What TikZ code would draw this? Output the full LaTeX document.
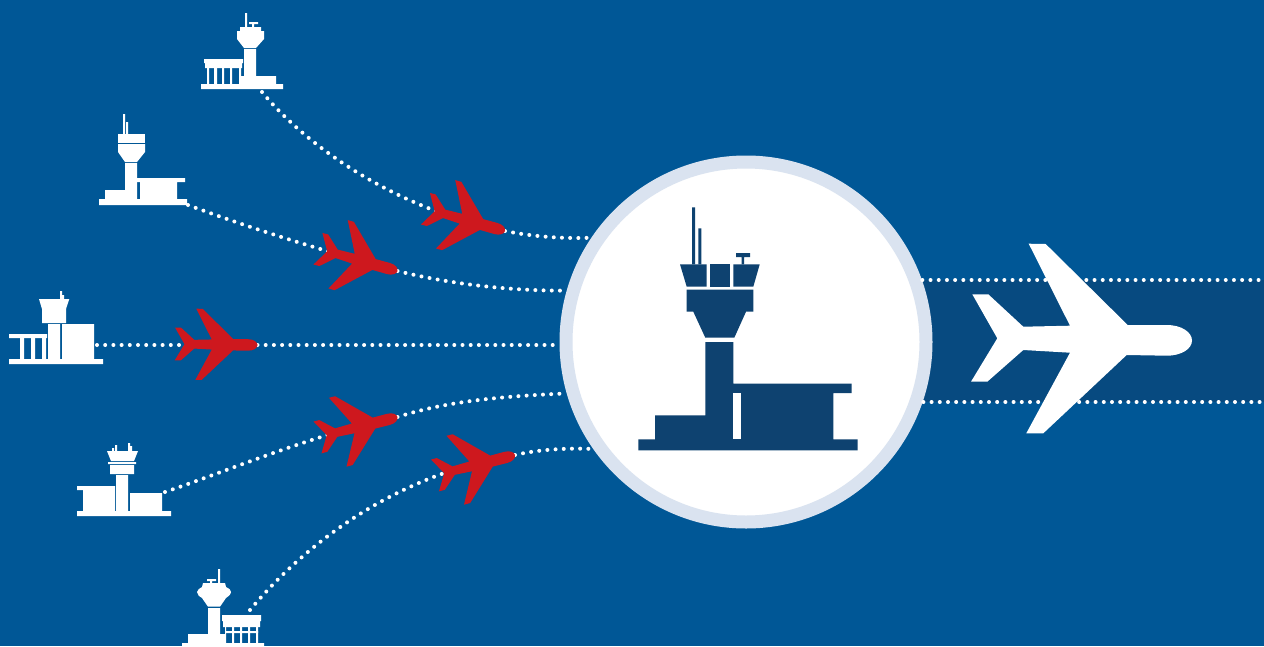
\documentclass[tikz,border=0pt]{standalone}
\usepackage{tikz}
\usetikzlibrary{shapes.geometric}

\definecolor{skyblue}{RGB}{0,87,150}
\definecolor{bandblue}{RGB}{7,74,128}
\definecolor{navy}{RGB}{14,66,112}
\definecolor{planered}{RGB}{206,24,30}
\definecolor{ringblue}{RGB}{218,227,240}

\begin{document}
\begin{tikzpicture}[x=1pt, y=-1pt,
  hub/.style={circle, draw=ringblue, fill=white, line width=13pt, minimum size=360pt, inner sep=0pt},
  route/.style={draw=white, line width=4pt, line cap=round, dash pattern=on 0pt off 8.2pt},
  bldg/.style={fill=white},
  hubbldg/.style={fill=navy},
  plane/.pic={
    \path [pic actions] (-219.7,-46.2) -- (-203.7,-46.2) -- (-168.7,-13.8) -- (-122,-14.8)
      -- (-163.3,-96.8) -- (-146.3,-96.5) -- (-64.3,-15.5) -- (-25.3,-15.5)
      .. controls (-10,-15.5) and (0,-8) .. (0,0) .. controls (0,8) and (-10,15.2) .. (-25.3,15.2)
      -- (-65.3,14.5) -- (-148.7,92.8) -- (-165.7,92.8) -- (-122,12.2) -- (-168.7,9.5)
      -- (-204.7,41.2) -- (-221,41.2) -- (-194.7,-2.2) -- cycle;
  }]

  \useasboundingbox (0,0) rectangle (1264,646);
  \fill [skyblue] (0,0) rectangle (1264,646);
  \fill [bandblue] (900,280) rectangle (1264,402);

  \node [hub] (tower) at (746,342) {};

  \coordinate (apA) at (262,92);
  \coordinate (apB) at (188,205);
  \coordinate (apC) at (97,345);
  \coordinate (apD) at (165,492);
  \coordinate (apE) at (250,610);
  \coordinate (planeA) at (505,231);
  \coordinate (planeB) at (397.5,271);
  \coordinate (planeC) at (257.5,345);
  \coordinate (planeD) at (397.5,417);
  \coordinate (planeE) at (515,455);
  \coordinate (exitT) at (1264,280);
  \coordinate (exitB) at (1264,402);

  \path [route] (apA) .. controls (310,150) and (400,210) .. (planeA);
  \path [route] (planeA) .. controls (530,236) and (560,239) .. (tower.146.5);
  \path [route] (apB) .. controls (250,228) and (320,250) .. (planeB);
  \path [route] (planeB) .. controls (450,284) and (510,291) .. (tower.164);
  \path [route] (apC) -- (planeC);
  \path [route] (planeC) -- (planeC -| tower.west);
  \path [route] (apD) .. controls (230,470) and (320,432) .. (planeD);
  \path [route] (planeD) .. controls (450,400) and (510,396) .. (tower.196.5);
  \path [route] (apE) .. controls (300,550) and (390,475) .. (planeE);
  \path [route] (planeE) .. controls (540,449) and (570,448) .. (tower.215);
  \path [route] (tower.19.4 |- exitT) -- (exitT);
  \path [route] (tower.-18.8 |- exitB) -- (exitB);

  \pic [fill=planered, scale=.375, rotate=-15] at (planeA) {plane};
  \pic [fill=planered, scale=.375, rotate=-15] at (planeB) {plane};
  \pic [fill=planered, scale=.375] at (planeC) {plane};
  \pic [fill=planered, scale=.375, rotate=15] at (planeD) {plane};
  \pic [fill=planered, scale=.375, rotate=15] at (planeE) {plane};
  \pic [fill=white] at (1192,340.5) {plane};

  % hub tower
  \fill [hubbldg] (692,207.3) rectangle (695,264.3) (698.3,228.3) rectangle (701.3,264.3);
  \fill [hubbldg] (741.7,255) rectangle (744,264.3) (736,253) rectangle (750,257);
  \fill [hubbldg] (680,264.3) -- (706.7,264.3) -- (706.7,286.7) -- (686.7,286.7) -- cycle;
  \fill [hubbldg] (710,264.3) rectangle (730,286.7);
  \fill [hubbldg] (733.3,264.3) -- (759.7,264.3) -- (753.3,286.7) -- (733.3,286.7) -- cycle;
  \fill [hubbldg] (686.7,289.7) -- (753.3,289.7) -- (753.3,311.7) -- (746,311.7) -- (734.3,337.7)
    -- (705.3,337.7) -- (693.3,311.7) -- (686.7,311.7) -- cycle;
  \fill [hubbldg] (705.3,342) -- (733.3,342) -- (733.3,383.7) -- (851.7,383.7) -- (851.7,393)
    -- (833.3,393) -- (833.3,439.3) -- (857.7,439.3) -- (857.7,450.3) -- (638.3,450.3)
    -- (638.3,439.3) -- (655,439.3) -- (655,415.3) -- (705.3,415.3) -- cycle;
  \fill [white] (733.3,393) rectangle (741.3,439.3);

  % airport A
  \fill [bldg] (201,84) rectangle (283,89) (204,59) rectangle (243,63) (205,63) rectangle (242,68);
  \fill [bldg] (207,68) rectangle (209,84) (214,68) rectangle (217,84) (222,68) rectangle (224,84)
    (230,68) rectangle (232,84) (239,68) rectangle (241,84);
  \fill [bldg] (244,49) rectangle (256,84) (240,76) rectangle (276,84);
  \fill [bldg] (240,27) -- (261,27) -- (261,31) -- (264,31) -- (264,39) -- (256,48) -- (244,48)
    -- (237,39) -- (237,31) -- (240,31) -- cycle;
  \fill [bldg] (245,13) rectangle (247,27) (249,22) rectangle (258,24) (252,24) rectangle (254,27);

  % airport B
  \fill [bldg] (99,199) rectangle (187,205) (105,190) rectangle (125,199) (125,163) rectangle (137,199);
  \fill [bldg] (137,178) rectangle (185,182) (140,182) rectangle (177,199);
  \fill [bldg] (118,134) rectangle (145,143);
  \fill [bldg] (118,144) -- (145,144) -- (145,152) -- (137,162) -- (125,162) -- (118,152) -- cycle;
  \fill [bldg] (123,114) rectangle (125,134) (126,122) rectangle (128,134);

  % airport C
  \fill [bldg] (9,359) rectangle (103,364) (9,334) rectangle (47,338);
  \fill [bldg] (20,338) rectangle (24,359) (31,338) rectangle (35,359) (42,338) rectangle (46,359);
  \fill [bldg] (48,324) rectangle (60,359) (62,324) rectangle (94,359);
  \fill [bldg] (39,299) -- (69.3,299) -- (66,309) -- (66,323) -- (42,323) -- (42,309) -- cycle;
  \fill [bldg] (60,291) rectangle (62,299) (62,295) rectangle (64,299);

  % airport D
  \fill [bldg] (77,511) rectangle (171,516) (77,486) rectangle (115,490) (83,490) rectangle (115,511);
  \fill [bldg] (116,475) rectangle (128,511) (130,493) rectangle (162,511);
  \fill [bldg] (107,451) -- (138,451) -- (134,461) -- (111,461) -- cycle;
  \fill [bldg] (108,462) rectangle (136,464) (110,465) rectangle (134,474);
  \fill [bldg] (112,448) rectangle (114,451) (115,445) rectangle (117,451)
    (128,443) rectangle (130,451) (130,446) rectangle (132,451);

  % airport E
  \fill [bldg] (182,643) rectangle (264,646) (188,634) rectangle (225,643) (208,608) rectangle (220,634);
  \fill [bldg] (203,583) -- (225,583) -- (226,587) .. controls (229,588) and (231,590) .. (231,592)
    .. controls (231,595) and (227,597) .. (226,598) -- (220,606.7) -- (208,606.7) -- (202,598)
    .. controls (200,597) and (197,595) .. (197,592) .. controls (197,590) and (200,588) .. (202,587) -- cycle;
  \fill [bldg] (218,569) rectangle (220,583) (207,579) rectangle (216,581) (210,581) rectangle (212,583);
  \fill [bldg] (222,615) rectangle (261,621) (223,621) rectangle (260,627) (225,631) rectangle (258,633);
  \fill [bldg] (225,627) rectangle (226,643) (232,627) rectangle (234,643) (240,627) rectangle (242,643)
    (248,627) rectangle (250,643) (256,627) rectangle (258,643);

\end{tikzpicture}
\end{document}
